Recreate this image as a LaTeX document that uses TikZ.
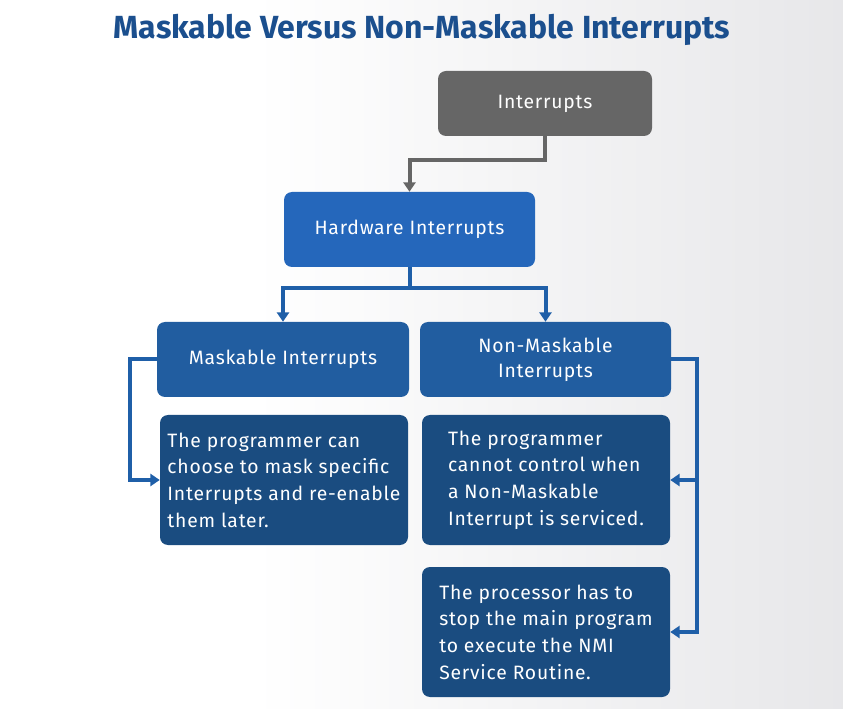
\documentclass[tikz,border=0pt]{standalone}
\usepackage{fontspec}
\setmainfont{Fira Sans}
\usetikzlibrary{arrows.meta,calc}
\definecolor{titleblue}{RGB}{27,79,142}
\definecolor{boxgray}{RGB}{102,102,102}
\definecolor{hwblue}{RGB}{37,103,187}
\definecolor{midblue}{RGB}{33,93,160}
\definecolor{darkblue}{RGB}{26,76,128}
\definecolor{lineblue}{RGB}{31,95,168}
\definecolor{bgright}{RGB}{214,214,218}
\pgfdeclarehorizontalshading{bgshade}{100bp}{color(0bp)=(white); color(40bp)=(white); color(100bp)=(bgright)}
\tikzset{
  box/.style={rounded corners=6pt, text=white, inner sep=0pt, align=center,
    font=\fontsize{14.5}{19}\selectfont\addfontfeatures{LetterSpace=4}},
  headbox/.style={box, minimum width=188.25pt, minimum height=56.25pt},
  textbox/.style={box, fill=darkblue, minimum width=186pt, minimum height=97.5pt, align=left,
    font=\fontsize{14.5}{20}\selectfont\addfontfeatures{LetterSpace=4}},
  conn/.style={line width=3pt, draw=lineblue, -{Triangle[width=9pt,length=7pt]}},
  gconn/.style={conn, draw=boxgray},
}
\begin{document}
\begin{tikzpicture}[x=0.75pt,y=-0.75pt]
\useasboundingbox (0,0) rectangle (843,709);
\shade[shading=bgshade] (0,0) rectangle (843,709);
\node[font=\fontsize{24}{28}\selectfont\bfseries, text=titleblue] (title) at (422,30) {Maskable Versus Non-Maskable Interrupts};
\node[headbox, fill=boxgray, minimum width=160.5pt, minimum height=48.75pt] (int) at (545,103.5) {Interrupts};
\node[headbox, fill=hwblue] (hw) at (409.5,229.5) {Hardware Interrupts};
\node[headbox, fill=midblue, minimum width=189pt] (mi) at (283,359.5) {Maskable Interrupts};
\node[headbox, fill=midblue] (nmi) at (545.5,359.5) {Non-Maskable\\Interrupts};
\node[textbox] (d1) at (284,480) {The programmer can\\choose to mask specific\\Interrupts and re-enable\\them later.};
\node[textbox] (d2) at (546,480) {The programmer\\cannot control when\\a Non-Maskable\\Interrupt is serviced.};
\node[textbox] (d3) at (546,632) {The processor has to\\stop the main program\\to execute the NMI\\Service Routine.};
\draw[gconn] (int.south) -- ++(0,24) -| (hw.north);
\draw[conn] (hw.south) -- ++(0,21) -| (mi.north);
\draw[conn] (hw.south) -- ++(0,21) -| (nmi.north);
\draw[conn] (mi.west) -- ++(-27,0) |- (d1.west);
\draw[conn] (nmi.east) -- ++(26,0) |- (d2.east);
\draw[conn] (nmi.east) -- ++(26,0) |- (d3.east);
\end{tikzpicture}
\end{document}
